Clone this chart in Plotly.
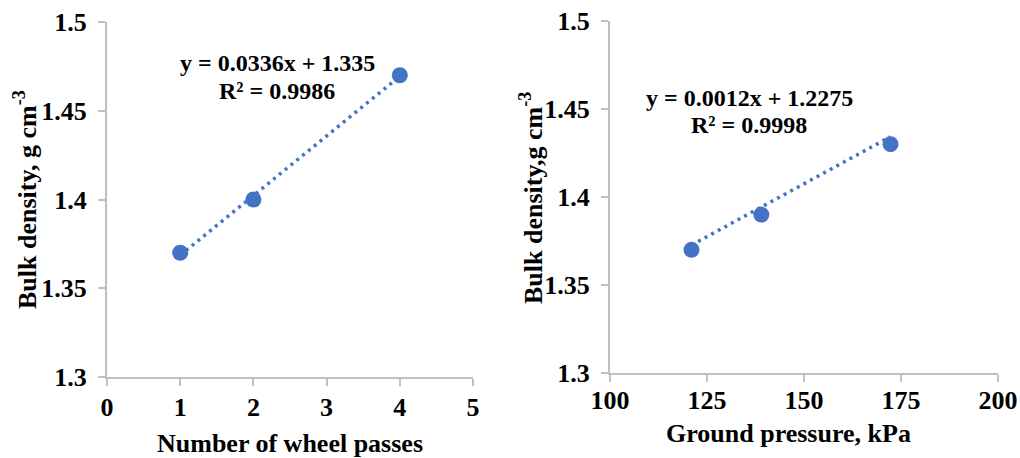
import plotly.graph_objects as go

# Left panel: bulk density vs number of wheel passes
passes = [1, 2, 4]
density_passes = [1.37, 1.40, 1.47]
slope_passes, intercept_passes, r2_passes = 0.0336, 1.335, 0.9986

# Right panel: bulk density vs ground pressure
pressure = [121, 139, 172.3]
density_pressure = [1.37, 1.39, 1.43]
slope_pressure, intercept_pressure, r2_pressure = 0.0012, 1.2275, 0.9998

x_ticks_left = [0, 1, 2, 3, 4, 5]
x_ticks_right = [100, 125, 150, 175, 200]
y_ticks = [1.3, 1.35, 1.4, 1.45, 1.5]
y_tick_text = ["1.3", "1.35", "1.4", "1.45", "1.5"]

BLUE = "#4472C4"
AXIS = "#BFBFBF"
FONT = "Liberation Serif"
W, H = 1020, 458


def fit_line(xs, m, b):
    x0, x1 = min(xs), max(xs)
    return [x0, x1], [m * x0 + b, m * x1 + b]


fig = go.Figure()
trend_style = dict(color=BLUE, width=3.5, dash="3px,4.5px")

lx, ly = fit_line(passes, slope_passes, intercept_passes)
fig.add_trace(go.Scatter(x=lx, y=ly, mode="lines", xaxis="x", yaxis="y",
                         line=trend_style, showlegend=False))
fig.add_trace(go.Scatter(x=passes, y=density_passes, mode="markers", xaxis="x", yaxis="y",
                         marker=dict(color=BLUE, size=16), showlegend=False))

rx, ry = fit_line(pressure, slope_pressure, intercept_pressure)
fig.add_trace(go.Scatter(x=rx, y=ry, mode="lines", xaxis="x2", yaxis="y2",
                         line=trend_style, showlegend=False))
fig.add_trace(go.Scatter(x=pressure, y=density_pressure, mode="markers", xaxis="x2", yaxis="y2",
                         marker=dict(color=BLUE, size=16), showlegend=False))

tick_font = dict(family=FONT, size=26, color="black", weight="bold")
axis_common = dict(showline=True, linecolor=AXIS, linewidth=2, ticks="outside",
                   ticklen=7, tickcolor=AXIS, tickwidth=2, showgrid=False,
                   zeroline=False, tickfont=tick_font, automargin=False)

fig.update_layout(
    width=W, height=H,
    margin=dict(l=0, r=0, t=0, b=0),
    paper_bgcolor="white", plot_bgcolor="white",
    xaxis=dict(domain=[107 / W, 473 / W], range=[0, 5], tickvals=x_ticks_left,
               anchor="y", ticklabelstandoff=-1, **axis_common),
    yaxis=dict(domain=[(H - 377) / H, (H - 22) / H], range=[1.3, 1.5],
               tickvals=y_ticks, ticktext=y_tick_text, anchor="x",
               ticklabelstandoff=6, **axis_common),
    xaxis2=dict(domain=[610 / W, 998 / W], range=[100, 200], tickvals=x_ticks_right,
                anchor="y2", ticklabelstandoff=-4, **axis_common),
    yaxis2=dict(domain=[(H - 373) / H, (H - 21) / H], range=[1.3, 1.5],
                tickvals=y_ticks, ticktext=y_tick_text, anchor="x2",
                ticklabelstandoff=6, **axis_common),
)

title_font = dict(family=FONT, size=26, color="black", weight="bold")
eq_font = dict(family=FONT, size=24, color="black", weight="bold")


def px_note(text, x, y, font, angle=0):
    fig.add_annotation(text=text, x=x / W, y=(H - y) / H, xref="paper", yref="paper",
                       xanchor="center", yanchor="middle", showarrow=False,
                       font=font, textangle=angle)


px_note("Number of wheel passes", 290, 443, title_font)
px_note("Ground pressure, kPa", 788, 433, title_font)
px_note("Bulk density, g cm<sup>-3</sup>", 25, 200, title_font, -90)
px_note("Bulk density,g cm<sup>-3</sup>", 531, 198, title_font, -90)

px_note(f"y = {slope_passes}x + {intercept_passes}", 277, 63, eq_font)
px_note(f"R² = {r2_passes}", 277, 91, eq_font)
px_note(f"y = {slope_pressure}x + {intercept_pressure}", 749, 98, eq_font)
px_note(f"R² = {r2_pressure}", 749, 125, eq_font)

fig.write_html("out.html")
